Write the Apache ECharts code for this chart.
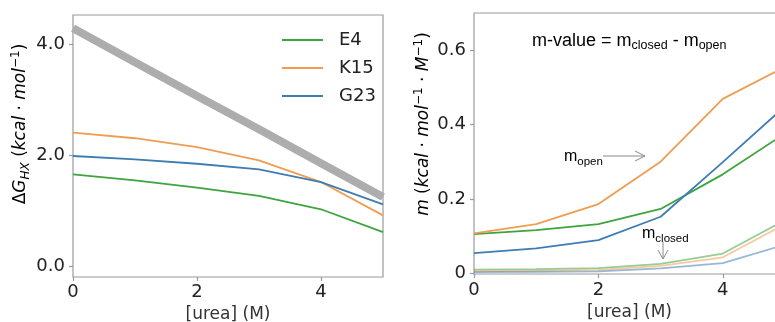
<!DOCTYPE html>
<html>
<head>
<meta charset="utf-8">
<script src="https://cdn.jsdelivr.net/npm/echarts@6/dist/echarts.min.js"></script>
<style>html,body{margin:0;padding:0;background:#fff;}#c{width:775px;height:322px;}</style>
</head>
<body>
<div id="c"></div>
<script>
// ---- data ----
const urea = [0, 1, 2, 3, 4, 5];
const xTicks = [0, 2, 4];
const leftYTicks = [0, 2, 4];
const rightYTicks = [0, 0.2, 0.4, 0.6];
const seriesNames = ['E4', 'K15', 'G23'];
const dgDenat = [4.28, 3.67, 3.06, 2.46, 1.85, 1.24];
const dgE4 = [1.65, 1.54, 1.41, 1.26, 1.02, 0.61];
const dgK15 = [2.40, 2.30, 2.14, 1.90, 1.51, 0.91];
const dgG23 = [1.98, 1.92, 1.84, 1.74, 1.51, 1.11];
const mOpenE4 = [0.105, 0.116, 0.132, 0.173, 0.266, 0.376];
const mOpenK15 = [0.107, 0.132, 0.186, 0.300, 0.469, 0.555];
const mOpenG23 = [0.054, 0.067, 0.089, 0.152, 0.299, 0.449];
const mClosedE4 = [0.010, 0.011, 0.014, 0.025, 0.053, 0.143];
const mClosedK15 = [0.006, 0.007, 0.009, 0.020, 0.043, 0.132];
const mClosedG23 = [0.003, 0.004, 0.005, 0.013, 0.027, 0.077];

const colors = { E4: '#3ea43e', K15: '#f09c52', G23: '#3d7db3' };
const pairs = arr => urea.map((x, i) => [x, arr[i]]);
const FONT = 'DejaVu Sans';
const AFONT = 'Liberation Sans';
const axisGray = '#9a9a9a';

function lineSeries(name, arr, grid, color, width, opacity) {
  return {
    name: name, type: 'line', xAxisIndex: grid, yAxisIndex: grid,
    data: pairs(arr), symbol: 'none', silent: true, animation: false,
    lineStyle: { color: color, width: width, opacity: opacity },
    itemStyle: { color: color }
  };
}

function xAxisDef(grid, name, labelMargin, nameGap) {
  return {
    type: 'value', gridIndex: grid, min: 0, max: 5,
    name: name, nameLocation: 'middle', nameGap: nameGap,
    nameTextStyle: { fontFamily: FONT, fontSize: 17, color: '#333' },
    axisLine: { show: false, onZero: false },
    axisTick: { show: true, customValues: xTicks, length: 4, lineStyle: { color: axisGray, width: 1.2 } },
    axisLabel: { customValues: xTicks, margin: labelMargin, fontFamily: FONT, fontSize: 18, color: '#222' },
    splitLine: { show: false }
  };
}

const chart = echarts.init(document.getElementById('c'), null, { renderer: 'canvas' });

const option = {
  animation: false,
  backgroundColor: '#fff',
  grid: [
    { left: 73, top: 15, width: 310, height: 262, outerBoundsMode: 'none', containLabel: false, show: true, borderColor: axisGray, borderWidth: 1.2, backgroundColor: 'transparent' },
    { left: 474, top: 13, width: 311, height: 261, outerBoundsMode: 'none', containLabel: false, show: true, borderColor: axisGray, borderWidth: 1.2, backgroundColor: 'transparent' }
  ],
  xAxis: [ xAxisDef(0, '[urea] (M)', 6, 27), xAxisDef(1, '[urea] (M)', 7, 29) ],
  yAxis: [
    {
      type: 'value', gridIndex: 0, min: -0.2, max: 4.52,
      axisLine: { show: false, onZero: false },
      axisTick: { show: true, customValues: leftYTicks, length: 4, lineStyle: { color: axisGray, width: 1.2 } },
      axisLabel: { customValues: leftYTicks, margin: 8, fontFamily: FONT, fontSize: 18, color: '#222', formatter: v => v.toFixed(1) },
      splitLine: { show: false }
    },
    {
      type: 'value', gridIndex: 1, min: -0.002, max: 0.7,
      axisLine: { show: false, onZero: false },
      axisTick: { show: true, customValues: rightYTicks, length: 4, lineStyle: { color: axisGray, width: 1.2 } },
      axisLabel: { customValues: rightYTicks, margin: 8, fontFamily: FONT, fontSize: 18, color: '#222', formatter: v => v === 0 ? '0' : v.toFixed(1) },
      splitLine: { show: false }
    }
  ],
  legend: {
    data: seriesNames, left: 277, top: 26, orient: 'vertical',
    icon: 'rect', itemWidth: 41, itemHeight: 2, itemGap: 10,
    selectedMode: false,
    textStyle: { fontFamily: FONT, fontSize: 18, color: '#222', padding: [0, 0, 0, 11] }
  },
  series: [
    lineSeries('denat', dgDenat, 0, '#adadad', 8, 1),
    lineSeries('E4', dgE4, 0, colors.E4, 1.8, 1),
    lineSeries('K15', dgK15, 0, colors.K15, 1.8, 1),
    lineSeries('G23', dgG23, 0, colors.G23, 1.8, 1),
    lineSeries('E4', mOpenE4, 1, colors.E4, 1.8, 1),
    lineSeries('K15', mOpenK15, 1, colors.K15, 1.8, 1),
    lineSeries('G23', mOpenG23, 1, colors.G23, 1.8, 1),
    lineSeries('E4 closed', mClosedE4, 1, colors.E4, 1.8, 0.55),
    lineSeries('K15 closed', mClosedK15, 1, colors.K15, 1.8, 0.55),
    lineSeries('G23 closed', mClosedG23, 1, colors.G23, 1.8, 0.55)
  ]
};
chart.setOption(option);

// ---- annotations and rotated axis titles ----
const labRich = {
  n: { fontFamily: FONT, fontSize: 17, color: '#333', lineHeight: 22 },
  i: { fontFamily: FONT, fontSize: 17, fontStyle: 'italic', color: '#333', lineHeight: 22 },
  sub: { fontFamily: FONT, fontSize: 12, fontStyle: 'italic', color: '#333', lineHeight: 12, verticalAlign: 'bottom' },
  sup: { fontFamily: FONT, fontSize: 12, color: '#333', lineHeight: 12, verticalAlign: 'top' }
};
const annRich = (big, small) => ({
  m: { fontFamily: AFONT, fontSize: big, color: '#222', lineHeight: 22 },
  s: { fontFamily: AFONT, fontSize: small, color: '#222', lineHeight: 12, verticalAlign: 'bottom' }
});
const arrowGray = '#8a8a8a';

chart.setOption({
  graphic: [
    { type: 'text', x: 21, y: 124, rotation: Math.PI / 2, silent: true,
      style: { text: '{n|Δ}{i|G}{sub|HX}{n| (}{i|kcal}{n| · }{i|mol}{sup|−1}{n|)}', rich: labRich, align: 'center', verticalAlign: 'middle' } },
    { type: 'text', x: 424, y: 124, rotation: Math.PI / 2, silent: true,
      style: { text: '{i|m}{n| (}{i|kcal}{n| · }{i|mol}{sup|−1}{n| · }{i|M}{sup|−1}{n|)}', rich: labRich, align: 'center', verticalAlign: 'middle' } },
    { type: 'text', x: 532, y: 41, silent: true,
      style: { text: '{m|m-value = m}{s|closed}{m| - m}{s|open}', rich: annRich(18, 12.5), align: 'left', verticalAlign: 'middle' } },
    { type: 'text', x: 564, y: 157, silent: true,
      style: { text: '{m|m}{s|open}', rich: annRich(16, 11.5), align: 'left', verticalAlign: 'middle' } },
    { type: 'text', x: 642, y: 234, silent: true,
      style: { text: '{m|m}{s|closed}', rich: annRich(16, 11.5), align: 'left', verticalAlign: 'middle' } },
    { type: 'polyline', silent: true, shape: { points: [[603, 156], [645, 156]] }, style: { stroke: arrowGray, lineWidth: 1 } },
    { type: 'polyline', silent: true, shape: { points: [[635, 151], [645, 156], [635, 161]] }, style: { stroke: arrowGray, lineWidth: 1, fill: null } },
    { type: 'polyline', silent: true, shape: { points: [[663, 242], [663, 259]] }, style: { stroke: arrowGray, lineWidth: 1 } },
    { type: 'polyline', silent: true, shape: { points: [[658, 250], [663, 259], [668, 250]] }, style: { stroke: arrowGray, lineWidth: 1, fill: null } }
  ]
});
</script>
</body>
</html>
